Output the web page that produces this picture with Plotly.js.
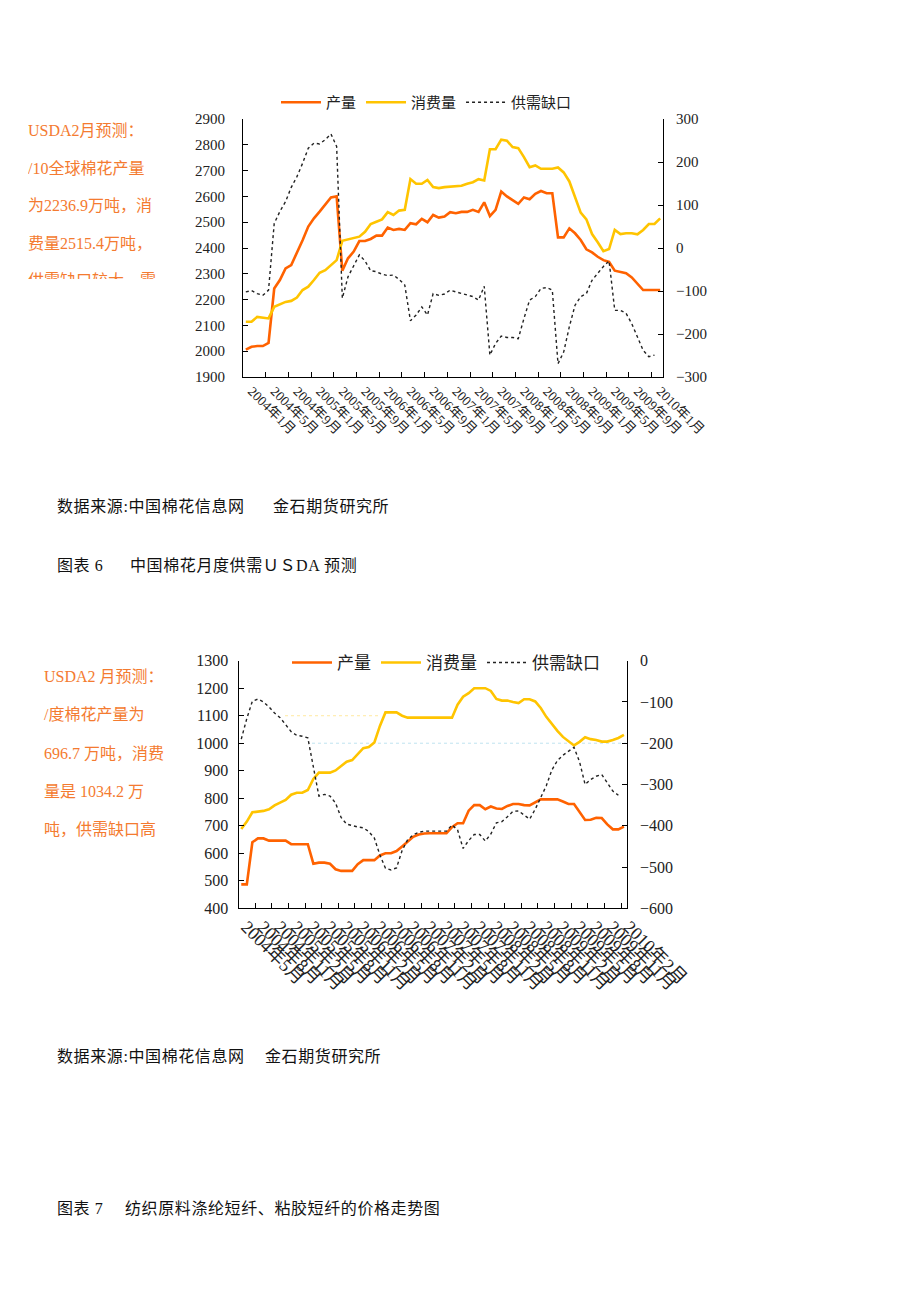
<!DOCTYPE html>
<html>
<head>
<meta charset="utf-8">
<script src="https://cdn.plot.ly/plotly-3.0.1.min.js"></script>
<style>
  html, body { margin: 0; padding: 0; background: #fff; }
  #wrap { position: relative; width: 920px; height: 1302px; overflow: hidden; }
  #chart { position: absolute; left: 0; top: 0; width: 920px; height: 1302px; }
  .t { position: absolute; font-family: "Liberation Serif", "Noto Sans CJK SC", serif; white-space: nowrap; }
  .doc { font-size: 16px; color: #111; line-height: 20px; letter-spacing: 0.6px; }
  .note { font-size: 16px; color: #F47B30; }
</style>
</head>
<body>
<div id="wrap">
  <div id="chart"></div>

  <div class="t note" style="left:28px; top:112px; line-height:37.5px; height:167px; overflow:hidden;">
    USDA2月预测：<br>/10全球棉花产量<br>为2236.9万吨，消<br>费量2515.4万吨，<br>供需缺口较大，需
  </div>

  <div class="t note" style="left:44px; top:658px; line-height:38.3px;">
    USDA2 月预测：<br>/度棉花产量为<br>696.7 万吨，消费<br>量是 1034.2 万<br>吨，供需缺口高
  </div>

  <div class="t doc" style="left:57px; top:497px;">数据来源:中国棉花信息网</div>
  <div class="t doc" style="left:273px; top:497px;">金石期货研究所</div>
  <div class="t doc" style="left:57px; top:556px;">图表 6</div>
  <div class="t doc" style="left:130px; top:556px;">中国棉花月度供需ＵＳDA 预测</div>

  <div class="t doc" style="left:57px; top:1047px;">数据来源:中国棉花信息网</div>
  <div class="t doc" style="left:265px; top:1047px;">金石期货研究所</div>
  <div class="t doc" style="left:57px; top:1199px;">图表 7</div>
  <div class="t doc" style="left:125px; top:1199px;">纺织原料涤纶短纤、粘胶短纤的价格走势图</div>
</div>

<script>
// ---------- categories ----------
function monthLabels(y0, m0, n) {
  const out = [];
  let y = y0, m = m0;
  for (let i = 0; i < n; i++) {
    out.push(y + '年' + m + '月');
    m++; if (m > 12) { m = 1; y++; }
  }
  return out;
}
const months1 = monthLabels(2004, 1, 74);   // 2004年1月 .. 2010年2月
const months2 = monthLabels(2004, 5, 70);   // 2004年5月 .. 2010年2月

// ---------- chart 1 : world (万吨) ----------
const prod1 = [2006,2017,2020,2020,2032,2243,2276,2321,2334,2380,
               2430,2483,2515,2541,2567,2596,2600,2312,2360,2386,
               2427,2427,2435,2448,2448,2479,2470,2474,2470,2496,
               2492,2513,2500,2528,2518,2522,2539,2535,2540,2540,
               2548,2540,2577,2524,2548,2619,2600,2584,2571,2596,
               2589,2610,2621,2612,2612,2441,2441,2476,2457,2431,
               2395,2383,2366,2353,2346,2312,2307,2302,2286,2263,
               2237,2237,2237,2237];
const cons1 = [2114,2114,2133,2131,2127,2172,2181,2191,2195,2208,
               2237,2250,2276,2304,2314,2334,2353,2428,2433,2437,
               2444,2463,2493,2502,2511,2539,2528,2545,2548,2667,
               2649,2649,2664,2636,2632,2636,2638,2638,2641,2649,
               2655,2667,2662,2783,2783,2820,2816,2791,2787,2752,
               2713,2720,2707,2707,2707,2712,2693,2658,2600,2537,
               2511,2454,2422,2388,2396,2470,2454,2457,2457,2453,
               2470,2493,2493,2515];
const gap1 = [-102,-99,-106,-110,-98,57,85,108,141,166,
              197,232,244,242,252,265,236,-117,-67,-43,
              -16,-30,-53,-55,-61,-64,-63,-73,-86,-169,
              -156,-137,-156,-106,-110,-107,-98,-102,-106,-110,
              -113,-121,-89,-249,-222,-205,-208,-208,-211,-164,
              -121,-113,-94,-92,-98,-269,-242,-183,-133,-113,
              -106,-75,-59,-43,-30,-145,-145,-152,-176,-207,
              -238,-253,-249,null];

// ---------- chart 2 : China (万吨) ----------
const prod2 = [487,487,640,654,654,646,646,646,646,633,
               633,633,633,562,566,566,562,542,536,536,
               536,560,575,575,575,592,600,600,608,625,
               642,660,668,672,673,673,673,673,695,709,
               709,755,775,775,760,770,763,761,772,779,
               779,775,774,786,796,796,796,796,788,779,
               779,750,721,722,729,728,705,687,687,697];
const cons2 = [688,715,749,752,754,760,774,784,794,813,
               820,820,830,870,893,893,893,901,918,933,
               939,960,982,986,1003,1063,1112,1112,1112,1100,
               1093,1093,1093,1093,1093,1093,1093,1093,1093,1140,
               1169,1182,1200,1200,1200,1190,1161,1155,1155,1150,
               1146,1160,1160,1152,1128,1096,1070,1045,1023,1006,
               992,1005,1022,1015,1012,1006,1006,1012,1019,1030];
const gap2 = [-190,-140,-98,-93,-100,-112,-127,-138,-155,-172,
              -181,-183,-187,-255,-328,-324,-328,-345,-380,-396,
              -400,-403,-405,-414,-430,-471,-503,-507,-502,-460,
              -434,-422,-416,-413,-413,-413,-413,-413,-398,-410,
              -455,-436,-421,-421,-437,-420,-393,-390,-378,-365,
              -364,-374,-384,-360,-332,-303,-265,-242,-229,-220,
              -210,-245,-300,-288,-280,-276,-297,-316,-326,null];

const seriesNames = ['产量', '消费量', '供需缺口'];

// ---------- styling ----------
const FONT = '"Liberation Serif", "Noto Sans CJK SC", serif';
const ORANGE = '#FF6200';
const YELLOW = '#FFC400';
const DOT = '#222222';
const W = 920, H = 1302;
const px = v => v / W;
const py = v => 1 - v / H;

const traces = [
  {x: months1, y: prod1, name: seriesNames[0], type: 'scatter', mode: 'lines', xaxis: 'x', yaxis: 'y',
   line: {color: ORANGE, width: 2.6}, legend: 'legend'},
  {x: months1, y: cons1, name: seriesNames[1], type: 'scatter', mode: 'lines', xaxis: 'x', yaxis: 'y',
   line: {color: YELLOW, width: 2.6}, legend: 'legend'},
  {x: months1, y: gap1, name: seriesNames[2], type: 'scatter', mode: 'lines', xaxis: 'x', yaxis: 'y2',
   line: {color: DOT, width: 1.4, dash: 'dot'}, legend: 'legend', connectgaps: false},

  {x: months2, y: prod2, name: seriesNames[0], type: 'scatter', mode: 'lines', xaxis: 'x2', yaxis: 'y3',
   line: {color: ORANGE, width: 2.6}, legend: 'legend2'},
  {x: months2, y: cons2, name: seriesNames[1], type: 'scatter', mode: 'lines', xaxis: 'x2', yaxis: 'y3',
   line: {color: YELLOW, width: 2.6}, legend: 'legend2'},
  {x: months2, y: gap2, name: seriesNames[2], type: 'scatter', mode: 'lines', xaxis: 'x2', yaxis: 'y4',
   line: {color: DOT, width: 1.4, dash: 'dot'}, legend: 'legend2', connectgaps: false}
];

const axisBase = {
  showline: true, linecolor: '#000', linewidth: 1, mirror: false,
  showgrid: false, zeroline: false, ticks: 'inside', ticklen: 5, tickcolor: '#000', tickwidth: 1,
  fixedrange: true
};

const layout = {
  width: W, height: H,
  margin: {l: 0, r: 0, t: 0, b: 0},
  paper_bgcolor: '#ffffff', plot_bgcolor: 'rgba(0,0,0,0)',
  font: {family: FONT, size: 14, color: '#222'},
  showlegend: true,
  xaxis: Object.assign({}, axisBase, {
    domain: [px(243), px(663)], anchor: 'y', type: 'category',
    categoryorder: 'array', categoryarray: months1, range: [-0.5, months1.length - 0.5],
    tickmode: 'linear', tick0: 0, dtick: 4, tickson: 'boundaries', tickangle: 45,
    tickfont: {size: 13.5, color: '#222'}, ticklabelshift: 6
  }),
  yaxis: Object.assign({}, axisBase, {
    domain: [py(377), py(119)], anchor: 'x', range: [1900, 2900], dtick: 100, tick0: 1900,
    tickfont: {size: 15, color: '#222'}, ticklabelstandoff: 14
  }),
  yaxis2: Object.assign({}, axisBase, {
    overlaying: 'y', side: 'right', anchor: 'x', range: [-300, 300], dtick: 100, tick0: -300,
    tickfont: {size: 15, color: '#222'}, ticklabelstandoff: 9
  }),
  xaxis2: Object.assign({}, axisBase, {
    domain: [px(238.5), px(626.7)], anchor: 'y3', type: 'category',
    categoryorder: 'array', categoryarray: months2, range: [-0.5, months2.length - 0.5],
    tickmode: 'linear', tick0: 0, dtick: 3, tickson: 'boundaries', tickangle: 45,
    tickfont: {size: 18, color: '#222'}, ticklabelshift: 5
  }),
  yaxis3: Object.assign({}, axisBase, {
    domain: [py(908.3), py(660.7)], anchor: 'x2', range: [400, 1300], dtick: 100, tick0: 400,
    tickfont: {size: 16, color: '#222'}, ticklabelstandoff: 6
  }),
  yaxis4: Object.assign({}, axisBase, {
    overlaying: 'y3', side: 'right', anchor: 'x2', range: [-600, 0], dtick: 100, tick0: -600,
    tickfont: {size: 16, color: '#222'}, ticklabelstandoff: 9
  }),
  legend: {
    orientation: 'h', x: px(276), y: py(86), xanchor: 'left', yanchor: 'top',
    font: {size: 15, color: '#222', family: FONT}, bgcolor: 'rgba(0,0,0,0)',
    itemwidth: 40, tracegroupgap: 0, itemclick: false, itemdoubleclick: false
  },
  legend2: {
    orientation: 'h', x: px(287), y: py(645), xanchor: 'left', yanchor: 'top',
    font: {size: 17, color: '#222', family: FONT}, bgcolor: '#ffffff',
    itemwidth: 40, tracegroupgap: 0, itemclick: false, itemdoubleclick: false
  },
  shapes: [
    {type: 'line', xref: 'paper', yref: 'y3', x0: px(285), x1: px(378), y0: 1100, y1: 1100,
     line: {color: '#FFE9A0', width: 1, dash: 'dot'}, layer: 'below'},
    {type: 'line', xref: 'paper', yref: 'y3', x0: px(312), x1: px(626), y0: 1000, y1: 1000,
     line: {color: '#BFE3F0', width: 1, dash: 'dot'}, layer: 'below'}
  ]
};

Plotly.newPlot('chart', traces, layout, {staticPlot: true, displayModeBar: false});
</script>
</body>
</html>
